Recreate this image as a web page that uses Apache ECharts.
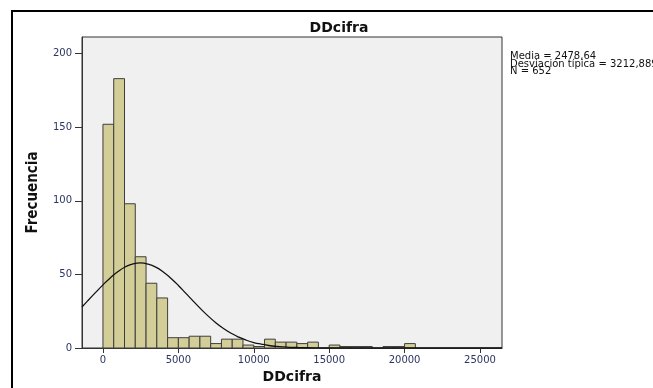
<!DOCTYPE html>
<html>
<head>
<meta charset="utf-8">
<script src="https://cdn.jsdelivr.net/npm/echarts@6/dist/echarts.min.js"></script>
<style>
  html, body { margin: 0; padding: 0; background: #fff; }
  #chart { width: 653px; height: 388px; }
</style>
</head>
<body>
<div id="chart"></div>
<script>
// histogram: 29 bins starting at 0, width 5000/7
const binWidth = 5000 / 7;
const counts = [152, 183, 98, 62, 44, 34, 7, 7, 8, 8, 3, 6, 6, 2, 1, 6, 4, 4, 3, 4, 0, 2, 1, 1, 1, 0, 1, 1, 3];

// normal curve
const curveX = [-1390, -1000, -500, 0, 500, 1000, 1500, 2000, 2500, 3000, 3500, 4000, 4500, 5000, 5500, 6000, 6500, 7000, 7500, 8000, 8500, 9000, 9500, 10000, 10500, 11000, 11500, 12000, 12500, 13000, 14000, 15000, 26460];
const curveY = [27.9, 32.2, 37.6, 42.9, 47.8, 52.0, 55.2, 57.2, 57.8, 57.0, 55.0, 51.7, 47.4, 42.5, 37.1, 31.7, 26.4, 21.5, 17.0, 13.2, 10.0, 7.4, 5.3, 3.7, 2.6, 1.7, 1.1, 0.7, 0.45, 0.3, 0.1, 0, 0];

const xTicks = [0, 5000, 10000, 15000, 20000, 25000];
const yTicks = [0, 50, 100, 150, 200];

const statsText = 'Media = 2478,64\nDesviación típica = 3212,889\nN = 652';

let bins = [];
counts.forEach((c, i) => {
  if (c > 0) bins.push([i * binWidth, (i + 1) * binWidth, c]);
});
let curve = curveX.map((x, i) => [x, curveY[i]]);

let labelColor = '#2c3560';
let myChart = echarts.init(document.getElementById('chart'));
myChart.setOption({
  animation: false,
  grid: {
    left: 82,
    top: 37,
    width: 420,
    height: 311,
    outerBoundsMode: 'none',
    containLabel: false,
    show: true,
    backgroundColor: '#f0f0f0',
    borderColor: '#333',
    borderWidth: 1
  },
  graphic: [
    {
      type: 'rect',
      shape: { x: 12, y: 11, width: 700, height: 400 },
      style: { fill: 'none', stroke: '#000', lineWidth: 2 }
    },
    {
      type: 'text',
      x: 339,
      y: 28,
      style: {
        text: 'DDcifra',
        font: 'bold 14px "DejaVu Sans"',
        fill: '#111',
        textAlign: 'center',
        textVerticalAlign: 'middle'
      }
    },
    {
      type: 'text',
      x: 510,
      y: 53,
      style: {
        text: statsText,
        font: '10px "DejaVu Sans"',
        lineHeight: 7.5,
        fill: '#111'
      }
    }
  ],
  xAxis: {
    type: 'value',
    min: -1390,
    max: 26460,
    name: 'DDcifra',
    nameLocation: 'middle',
    nameGap: 22,
    nameTextStyle: {
      fontFamily: 'DejaVu Sans',
      fontWeight: 'bold',
      fontSize: 14,
      color: '#111'
    },
    splitLine: { show: false },
    axisLine: { show: true, onZero: false, lineStyle: { color: '#333', width: 1 } },
    axisTick: {
      show: true,
      length: 5,
      customValues: xTicks,
      lineStyle: { color: '#333' }
    },
    axisLabel: {
      customValues: xTicks,
      formatter: v => String(v),
      margin: 7,
      fontFamily: 'DejaVu Sans',
      fontSize: 10,
      color: labelColor
    }
  },
  yAxis: {
    type: 'value',
    min: 0,
    max: 211.3,
    name: 'Frecuencia',
    nameLocation: 'middle',
    nameGap: 41,
    nameTextStyle: {
      fontFamily: '"Liberation Sans Narrow", "DejaVu Sans Condensed", sans-serif',
      fontWeight: 'bold',
      fontSize: 15,
      color: '#111'
    },
    splitLine: { show: false },
    axisLine: { show: true, onZero: false, lineStyle: { color: '#333', width: 1 } },
    axisTick: {
      show: true,
      length: 7,
      customValues: yTicks,
      lineStyle: { color: '#333' }
    },
    axisLabel: {
      customValues: yTicks,
      formatter: v => String(v),
      margin: 10,
      fontFamily: 'DejaVu Sans',
      fontSize: 10,
      color: labelColor
    }
  },
  series: [
    {
      type: 'custom',
      data: bins,
      renderItem: function (params, api) {
        let p0 = api.coord([api.value(0), 0]);
        let p1 = api.coord([api.value(1), api.value(2)]);
        return {
          type: 'rect',
          shape: { x: p0[0], y: p1[1], width: p1[0] - p0[0], height: p0[1] - p1[1] },
          style: { fill: '#d3ce97', stroke: '#3e3e3e', lineWidth: 1 }
        };
      },
      z: 2
    },
    {
      type: 'line',
      data: curve,
      smooth: true,
      symbol: 'none',
      lineStyle: { color: '#111', width: 1.3 },
      z: 3
    }
  ]
});
</script>
</body>
</html>
